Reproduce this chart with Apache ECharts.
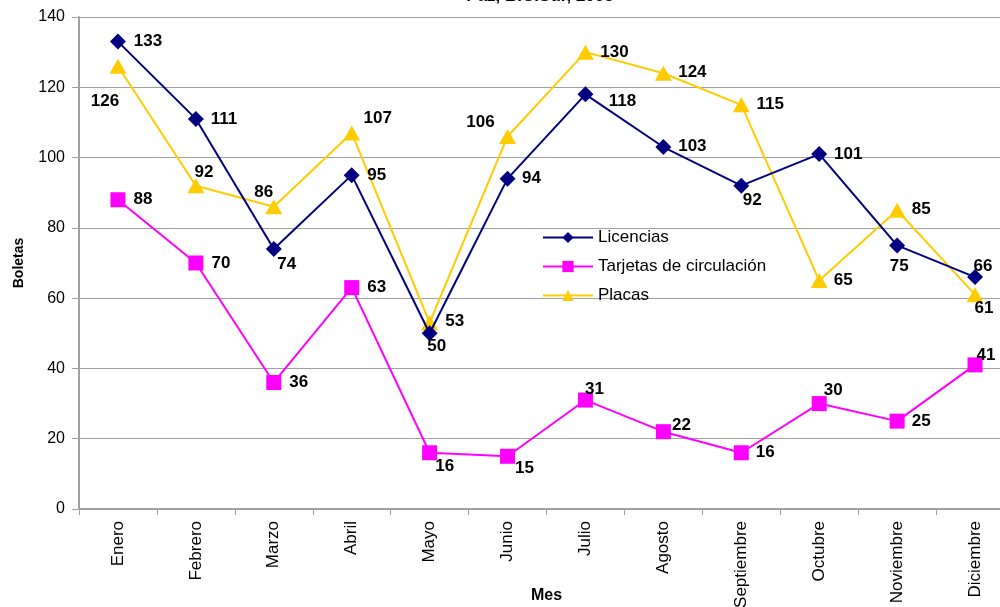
<!DOCTYPE html>
<html>
<head>
<meta charset="utf-8">
<script src="https://cdn.jsdelivr.net/npm/echarts@6/dist/echarts.min.js"></script>
<style>
  html, body { margin: 0; padding: 0; background: #fff; }
  #chart { width: 1000px; height: 607px; }
</style>
</head>
<body>
<div id="chart"></div>
<script>
// datos
const meses = ['Enero', 'Febrero', 'Marzo', 'Abril', 'Mayo', 'Junio', 'Julio', 'Agosto', 'Septiembre', 'Octubre', 'Noviembre', 'Diciembre'];
const licencias = [133, 111, 74, 95, 50, 94, 118, 103, 92, 101, 75, 66];
const tarjetas = [88, 70, 36, 63, 16, 15, 31, 22, 16, 30, 25, 41];
const placas = [126, 92, 86, 107, 53, 106, 130, 124, 115, 65, 85, 61];
const yTicks = [0, 20, 40, 60, 80, 100, 120, 140];

// desplazamiento de cada etiqueta respecto al marcador (solo estilo)
const offLic = [[30, 0], [28, 0], [13, 15], [25, 0], [7, 13], [24, 0], [37, 7], [29, -1], [11, 15], [29, 0], [2, 21], [8, -11]];
const offTar = [[25, 0], [25, 0], [25, 0], [25, 0], [15, 14], [17, 12], [9, -11], [18, -6], [24, 0], [14, -13], [24, 0], [11, -10]];
const offPla = [[-13, 35], [8, -13], [-10, -14], [26, -15], [25, -1], [-27, -14], [29, 0], [29, -1], [29, -1], [24, 0], [24, -1], [9, 14]];

function conEtiquetas(vals, offs) {
  return vals.map((v, i) => ({ value: v, label: { offset: offs[i] } }));
}

const etiqueta = {
  show: true,
  position: 'inside',
  align: 'center',
  verticalAlign: 'middle',
  color: '#000',
  fontWeight: 'bold',
  fontSize: 17,
  fontFamily: 'Liberation Sans'
};

const chart = echarts.init(document.getElementById('chart'));
chart.setOption({
  animation: false,
  backgroundColor: '#fff',
  textStyle: { fontFamily: 'Liberation Sans' },
  title: {
    text: 'Paz, B.C.Sur, 2005',
    left: 535,
    textAlign: 'center',
    top: -17,
    textStyle: { fontSize: 17, fontWeight: 'bold', color: '#000', fontFamily: 'Liberation Sans' }
  },
  legend: {
    orient: 'vertical',
    left: 537,
    top: 224,
    itemWidth: 50,
    itemHeight: 14,
    itemGap: 12,
    textStyle: { fontSize: 17, color: '#000', fontFamily: 'Liberation Sans' },
    data: ['Licencias', 'Tarjetas de circulación', 'Placas']
  },
  grid: { left: 79, width: 935, top: 17, height: 492, outerBoundsMode: 'none', containLabel: false },
  xAxis: {
    type: 'category',
    data: meses,
    boundaryGap: true,
    name: 'Mes',
    nameLocation: 'middle',
    nameGap: 79,
    nameMoveOverlap: false,
    nameTextStyle: { fontWeight: 'bold', fontSize: 16, color: '#000', verticalAlign: 'top' },
    axisLine: { lineStyle: { color: '#a0a0a0', width: 2 } },
    axisTick: { show: true, length: 6, lineStyle: { color: '#a0a0a0', width: 1 } },
    axisLabel: { rotate: 90, margin: 12, fontSize: 17, color: '#000', interval: 0 }
  },
  yAxis: {
    type: 'value',
    min: yTicks[0],
    max: yTicks[yTicks.length - 1],
    interval: 20,
    name: 'Boletas',
    nameLocation: 'middle',
    nameGap: 53,
    nameMoveOverlap: false,
    nameTextStyle: { fontWeight: 'bold', fontSize: 14, color: '#000' },
    axisLine: { show: true, lineStyle: { color: '#a0a0a0', width: 2 } },
    axisTick: { show: true, length: 7, lineStyle: { color: '#a0a0a0', width: 1 } },
    axisLabel: { fontSize: 16, color: '#000', margin: 14 },
    splitLine: { lineStyle: { color: '#a0a0a0', width: 1 } }
  },
  series: [
    {
      name: 'Licencias',
      type: 'line',
      data: conEtiquetas(licencias, offLic),
      symbol: 'diamond',
      symbolSize: 16,
      lineStyle: { color: '#000080', width: 2 },
      itemStyle: { color: '#000080' },
      label: etiqueta,
      z: 3
    },
    {
      name: 'Tarjetas de circulación',
      type: 'line',
      data: conEtiquetas(tarjetas, offTar),
      symbol: 'rect',
      symbolSize: 15,
      lineStyle: { color: '#ff00ff', width: 2 },
      itemStyle: { color: '#ff00ff' },
      label: etiqueta,
      z: 2
    },
    {
      name: 'Placas',
      type: 'line',
      data: conEtiquetas(placas, offPla),
      symbol: 'triangle',
      symbolSize: [17, 15],
      lineStyle: { color: '#ffcc00', width: 2 },
      itemStyle: { color: '#ffcc00' },
      label: etiqueta,
      z: 2
    }
  ]
});
</script>
</body>
</html>
